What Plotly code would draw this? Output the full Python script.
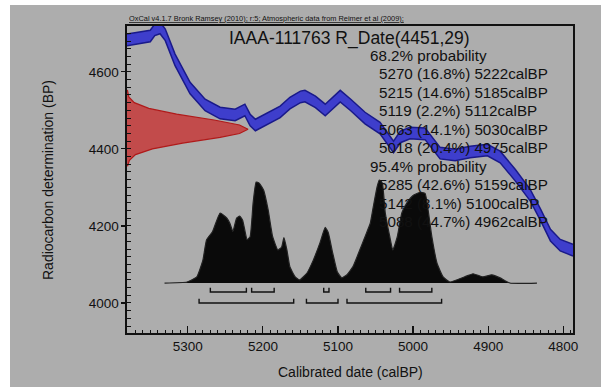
import plotly.graph_objects as go

# ---------------- data ----------------
# Calibration curve (IntCal09) centre values
cal_bp = [5381, 5364, 5350, 5344, 5337, 5330, 5317, 5297, 5277, 5257, 5237, 5224, 5217,
          5210, 5197, 5177, 5164, 5150, 5144, 5130, 5117, 5097, 5083, 5064, 5044, 5026,
          5017, 5004, 4984, 4964, 4944, 4924, 4901, 4884, 4864, 4844, 4830, 4817, 4804, 4787]
cal_c14 = [4683, 4688, 4693, 4709, 4714, 4696, 4631, 4558, 4514, 4493, 4488, 4501, 4475,
           4462, 4475, 4496, 4519, 4535, 4537, 4522, 4501, 4537, 4514, 4480, 4454, 4405,
           4431, 4441, 4439, 4389, 4384, 4392, 4397, 4379, 4332, 4280, 4228, 4176, 4150, 4137]
cal_sigma = 15

# Radiocarbon measurement R_Date(4451,29): BP values and relative density
rdate_bp = [4355, 4370, 4385, 4400, 4415, 4430, 4440, 4451, 4462, 4475, 4490, 4505, 4520, 4535, 4553]
rdate_dens = [0.004, 0.02, 0.07, 0.21, 0.46, 0.77, 0.93, 1.0, 0.93, 0.72, 0.41, 0.18, 0.06, 0.015, 0.003]

# Calibrated probability distribution (relative)
post_cal = [5331, 5301, 5288, 5280, 5275, 5267, 5257, 5248, 5244, 5240, 5235, 5231, 5227,
            5221, 5217, 5213, 5209, 5205, 5199, 5193, 5187, 5180, 5175, 5172, 5168, 5164,
            5157, 5151, 5141, 5133, 5124, 5117, 5113, 5107, 5101, 5095, 5088, 5080, 5071,
            5064, 5057, 5053, 5048, 5045, 5041, 5037, 5031, 5027, 5021, 5015, 5008, 5000,
            4991, 4984, 4980, 4975, 4968, 4960, 4951, 4928, 4920, 4907, 4895, 4884, 4871, 4835]
post_prob = [0.0, 0.01, 0.06, 0.22, 0.42, 0.50, 0.68, 0.63, 0.58, 0.50, 0.63, 0.65, 0.61,
             0.42, 0.45, 0.78, 0.98, 0.97, 0.90, 0.71, 0.45, 0.32, 0.35, 0.44, 0.32, 0.155,
             0.06, 0.03, 0.10, 0.22, 0.39, 0.54, 0.49, 0.29, 0.11, 0.05, 0.08, 0.16, 0.32,
             0.45, 0.58, 0.74, 0.93, 1.0, 0.97, 0.68, 0.45, 0.32, 0.45, 0.68, 0.78, 0.85,
             0.88, 0.87, 0.71, 0.45, 0.19, 0.06, 0.01, 0.07, 0.09, 0.06, 0.08, 0.05, 0.0, 0.0]

# Calibrated ranges
r68_from = [5270, 5215, 5119, 5063, 5018]
r68_pct = [16.8, 14.6, 2.2, 14.1, 20.4]
r68_to = [5222, 5185, 5112, 5030, 4975]
r95_from = [5285, 5142, 5088]
r95_pct = [42.6, 8.1, 44.7]
r95_to = [5159, 5100, 4962]

x_ticks = [5300, 5200, 5100, 5000, 4900, 4800]
y_ticks = [4000, 4200, 4400, 4600]

title_text = "IAAA-111763 R_Date(4451,29)"
source_text = "OxCal v4.1.7 Bronk Ramsey (2010); r:5; Atmospheric data from Reimer et al (2009);"

# ---------------- figure ----------------
BG = "#adadad"
INK = "#111111"
FONT = "Liberation Sans, Arial, sans-serif"
L, R, T, B = 127, 28, 26, 54
W, H = 601, 387
PW, PH = W - L - R, H - T - B


def px2paper(px, py):
    return (px - L) / PW, (H - B - py) / PH


fig = go.Figure()

# calibration curve band
upper = [c + cal_sigma for c in cal_c14]
lower = [c - cal_sigma for c in cal_c14]
fig.add_trace(go.Scatter(x=cal_bp, y=upper, mode="lines",
                         line=dict(color="#1a1a8a", width=1.5), hoverinfo="skip"))
fig.add_trace(go.Scatter(x=cal_bp, y=lower, mode="lines", fill="tonexty",
                         fillcolor="#3e3ecc", line=dict(color="#1a1a8a", width=1.5),
                         hoverinfo="skip"))

# radiocarbon date distribution on y axis
fig.add_trace(go.Scatter(x=rdate_dens, y=rdate_bp, xaxis="x2", yaxis="y", mode="lines",
                         fill="tozerox", fillcolor="rgba(195,70,70,0.95)",
                         line=dict(color="#b01a1a", width=1.2), hoverinfo="skip"))

# calibrated distribution
fig.add_trace(go.Scatter(x=post_cal, y=post_prob, xaxis="x", yaxis="y2", mode="lines",
                         fill="tozeroy", fillcolor="#0a0a0a",
                         line=dict(color="#222222", width=1.2, shape="spline", smoothing=0.4),
                         hoverinfo="skip"))

# range brackets
def brackets(froms, tos, level, tip):
    xs, ys = [], []
    for a, b in zip(froms, tos):
        xs += [a, a, b, b, None]
        ys += [tip, level, level, tip, None]
    return xs, ys

bx, by = brackets(r68_from, r68_to, -0.087, -0.045)
fig.add_trace(go.Scatter(x=bx, y=by, xaxis="x", yaxis="y2", mode="lines",
                         line=dict(color=INK, width=1.4), hoverinfo="skip"))
bx, by = brackets(r95_from, r95_to, -0.194, -0.152)
fig.add_trace(go.Scatter(x=bx, y=by, xaxis="x", yaxis="y2", mode="lines",
                         line=dict(color=INK, width=1.4), hoverinfo="skip"))

annotations = []
# source line
sx, sy = px2paper(127, 19)
annotations.append(dict(x=sx, y=sy, xref="paper", yref="paper", xanchor="left", yanchor="middle",
                        text="<u>" + source_text + "</u>", showarrow=False,
                        font=dict(size=7.4, color=INK, family=FONT)))
# title
tx, ty = px2paper(349, 38)
annotations.append(dict(x=tx, y=ty, xref="paper", yref="paper", xanchor="center", yanchor="middle",
                        text=title_text, showarrow=False, font=dict(size=17.5, color=INK, family=FONT)))

lines = [("68.2% probability", 368)]
for a, p, b in zip(r68_from, r68_pct, r68_to):
    lines.append((f"{a} ({p}%) {b}calBP", 377))
lines.append(("95.4% probability", 368))
for a, p, b in zip(r95_from, r95_pct, r95_to):
    lines.append((f"{a} ({p}%) {b}calBP", 377))
for i, (txt, xp) in enumerate(lines):
    ax_, ay_ = px2paper(xp, 55 + i * 18.5)
    annotations.append(dict(x=ax_, y=ay_, xref="paper", yref="paper", xanchor="left",
                            yanchor="middle", text=txt, showarrow=False,
                            font=dict(size=15.2, color=INK, family=FONT)))

# axis titles
xx, xy = px2paper(350, 372)
annotations.append(dict(x=xx, y=xy, xref="paper", yref="paper", xanchor="center", yanchor="middle",
                        text="Calibrated date (calBP)", showarrow=False,
                        font=dict(size=14, color=INK, family=FONT)))
yx, yy = px2paper(48, 180)
annotations.append(dict(x=yx, y=yy, xref="paper", yref="paper", xanchor="center", yanchor="middle",
                        text="Radiocarbon determination (BP)", textangle=-90, showarrow=False,
                        font=dict(size=14, color=INK, family=FONT)))

# white strips of the original screenshot border
shapes = [
    dict(type="rect", xref="paper", yref="paper", x0=-L / PW, x1=(10 - L) / PW,
         y0=-B / PH, y1=(H - B) / PH, fillcolor="white", line=dict(width=0), layer="below"),
    dict(type="rect", xref="paper", yref="paper", x0=-L / PW, x1=(W - L) / PW,
         y0=(H - B - 5) / PH, y1=(H - B) / PH, fillcolor="white", line=dict(width=0), layer="below"),
]

fig.update_layout(
    width=W, height=H, margin=dict(l=L, r=R, t=T, b=B),
    paper_bgcolor=BG, plot_bgcolor=BG, showlegend=False,
    font=dict(family=FONT, color=INK),
    xaxis=dict(range=[5381, 4787], tickvals=x_ticks, ticktext=[str(v) for v in x_ticks],
               ticks="inside", ticklen=7, tickwidth=1.2, tickcolor=INK,
               minor=dict(dtick=10, tick0=4800, ticks="inside", ticklen=3, tickcolor=INK, tickwidth=1),
               showline=True, linecolor=INK, linewidth=1.6, mirror=True,
               showgrid=False, zeroline=False, tickfont=dict(size=13.5, color=INK, family=FONT)),
    yaxis=dict(range=[3922, 4719], tickvals=y_ticks, ticktext=[str(v) for v in y_ticks],
               ticks="outside", ticklen=4, tickwidth=1.2, tickcolor=INK,
               minor=dict(dtick=20, tick0=4000, ticks="inside", ticklen=4, tickcolor=INK, tickwidth=1),
               showline=True, linecolor=INK, linewidth=1.6, mirror=True,
               showgrid=False, zeroline=False, tickfont=dict(size=13.5, color=INK, family=FONT)),
    xaxis2=dict(overlaying="x", anchor="y", range=[0, 446 / 121], visible=False),
    yaxis2=dict(overlaying="y", anchor="x", range=[-0.485, 2.495], visible=False),
    annotations=annotations, shapes=shapes,
)

fig.write_html("out.html", config={"displayModeBar": False, "staticPlot": True},
               post_script="document.body.style.margin='0';document.body.style.overflow='hidden';")
